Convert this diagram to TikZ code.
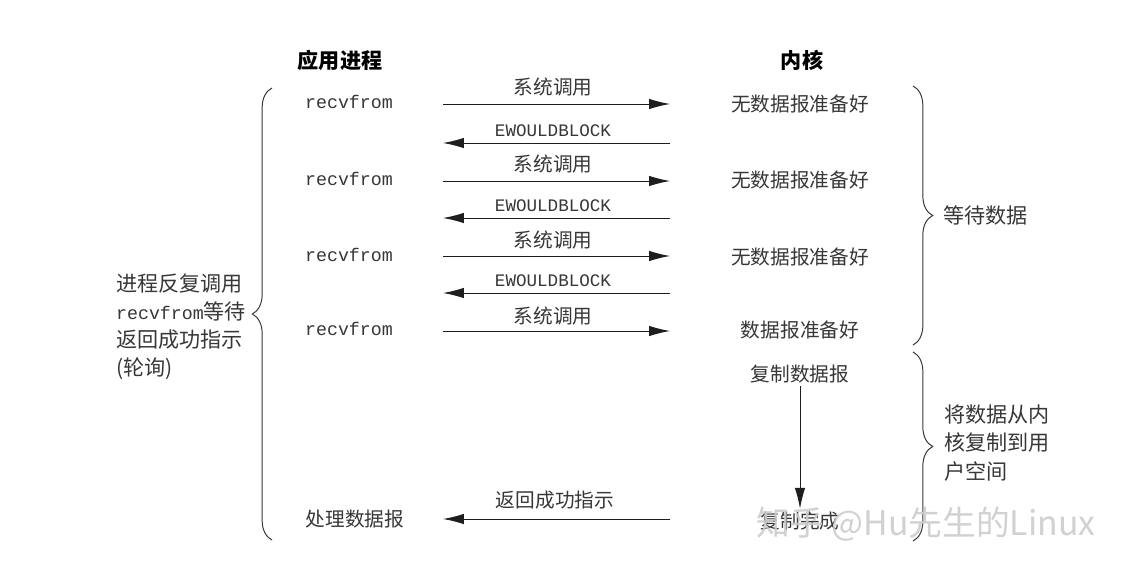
\documentclass[tikz,border=0pt]{standalone}
\usepackage{fontspec}
\setmonofont{Liberation Mono}
\newfontfamily\cjk{Noto Sans CJK SC}
\usetikzlibrary{arrows.meta, positioning, decorations.pathreplacing}
\definecolor{inkgray}{RGB}{55,55,55}
\definecolor{linegray}{RGB}{30,30,30}

\tikzset{
  cn/.style={font=\cjk\fontsize{14}{17}\selectfont, text=inkgray, inner sep=2pt},
  code/.style={font=\ttfamily\fontsize{13}{15}\selectfont, text=inkgray, inner sep=2pt},
  errlbl/.style={font=\ttfamily\fontsize{12.5}{14}\selectfont, text=inkgray, inner sep=1pt},
  callarrow/.style={-{Latex[length=5.2mm,width=2.6mm]}, linegray, line width=0.7pt},
  grp/.style={decorate, decoration={brace, amplitude=14pt}, inkgray, line width=0.7pt},
}

\begin{document}
\begin{tikzpicture}[x=0.025cm, y=-0.025cm]
  \useasboundingbox (0,0) rectangle (1124,571);
  \fill[white] (0,0) rectangle (1124,571);

  % column heads
  \node[cn, font=\cjk\bfseries\fontsize{15}{17}\selectfont, text=black] (app) at (340,60) {应用进程};
  \node[cn, font=\cjk\bfseries\fontsize{15}{17}\selectfont, text=black] (kern) at (802,60) {内核};

  % process side
  \node[code] (r1) at (349,102) {recvfrom};
  \node[code] (r2) at (349,179) {recvfrom};
  \node[code] (r3) at (349,255) {recvfrom};
  \node[code] (r4) at (349,329) {recvfrom};
  \node[cn] (proc) at (355,519) {处理数据报};

  % kernel side
  \node[cn] (k1) at (800,104) {无数据报准备好};
  \node[cn] (k2) at (800,180) {无数据报准备好};
  \node[cn] (k3) at (800,257) {无数据报准备好};
  \node[cn] (k4) at (800,330) {数据报准备好};
  \node[cn] (copy) at (800,374) {复制数据报};
  \node[cn] (done) at (800,521) {复制完成};

  % arrow ends
  \coordinate (p1) at (443,104); \coordinate (q1) at (670,104);
  \coordinate (p2) at (443,143); \coordinate (q2) at (670,143);
  \coordinate (p3) at (443,181); \coordinate (q3) at (670,181);
  \coordinate (p4) at (443,218); \coordinate (q4) at (670,218);
  \coordinate (p5) at (443,256); \coordinate (q5) at (670,256);
  \coordinate (p6) at (443,293); \coordinate (q6) at (670,293);
  \coordinate (p7) at (443,331); \coordinate (q7) at (670,331);
  \coordinate (p8) at (443,519); \coordinate (q8) at (670,519);

  \draw[callarrow] (p1) -- (q1);
  \draw[callarrow] (q2) -- (p2);
  \draw[callarrow] (p3) -- (q3);
  \draw[callarrow] (q4) -- (p4);
  \draw[callarrow] (p5) -- (q5);
  \draw[callarrow] (q6) -- (p6);
  \draw[callarrow] (p7) -- (q7);
  \draw[callarrow] (q8) -- (p8);
  \draw[callarrow] (copy) -- (done);

  % arrow labels
  \node[cn] (sc1) at (553,87) {系统调用};
  \node[errlbl] (ew1) at (553,131) {EWOULDBLOCK};
  \node[cn] (sc2) at (553,164) {系统调用};
  \node[errlbl] (ew2) at (553,206) {EWOULDBLOCK};
  \node[cn] (sc3) at (553,240) {系统调用};
  \node[errlbl] (ew3) at (553,281) {EWOULDBLOCK};
  \node[cn] (sc4) at (553,316) {系统调用};
  \node[cn] (ok) at (555,500) {返回成功指示};

  % braces
  \draw[grp] (272,540) -- (272,88);
  \draw[grp] (913,86) -- (913,345);
  \draw[grp] (913,352) -- (913,541);

  \node[cn, font=\cjk\fontsize{15}{20}\selectfont, align=left, anchor=west] (poll) at (113,327)
    {进程反复调用\\{\ttfamily\fontsize{13}{20}\selectfont recvfrom}等待\\返回成功指示\\(轮询)};
  \node[cn, font=\cjk\fontsize{15}{17}\selectfont, anchor=west] (wait) at (940,215) {等待数据};
  \node[cn, font=\cjk\fontsize{15}{20}\selectfont, align=left, anchor=west] (cp) at (941,443)
    {将数据从内\\核复制到用\\户空间};

  % watermark
  \node[font=\cjk\fontsize{24}{26}\selectfont, text=black!20, opacity=0.9] (wm) at (926,524) {知乎 @Hu先生的Linux};
\end{tikzpicture}
\end{document}
